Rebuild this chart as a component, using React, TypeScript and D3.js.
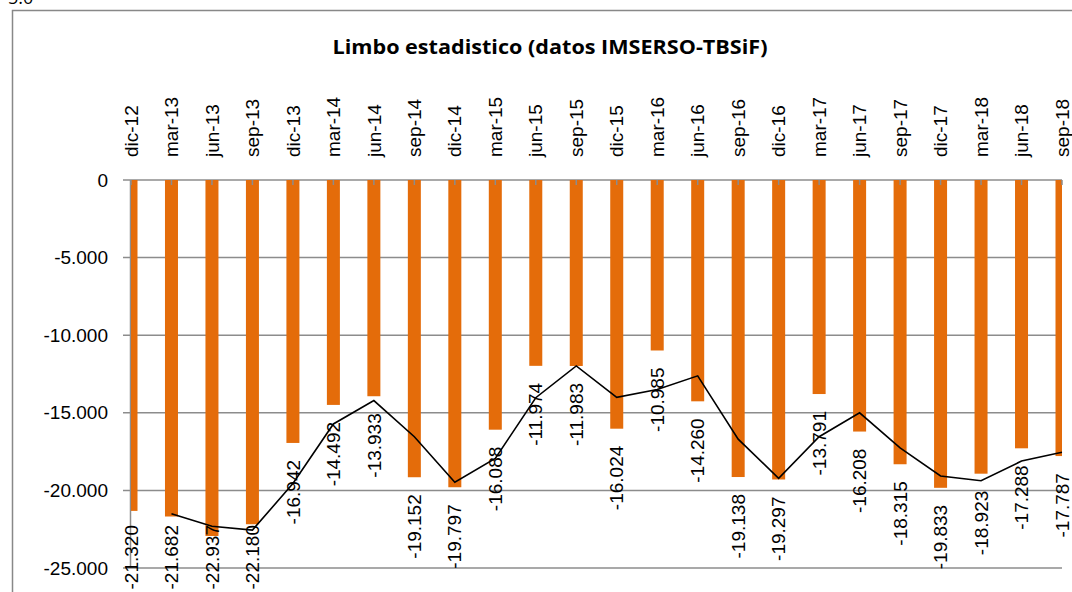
import React from 'react'
import * as d3 from 'd3'

// quarters shown on the category axis
const categories = ['dic-12', 'mar-13', 'jun-13', 'sep-13', 'dic-13', 'mar-14', 'jun-14', 'sep-14',
  'dic-14', 'mar-15', 'jun-15', 'sep-15', 'dic-15', 'mar-16', 'jun-16', 'sep-16',
  'dic-16', 'mar-17', 'jun-17', 'sep-17', 'dic-17', 'mar-18', 'jun-18', 'sep-18']

// bar values (data labels)
const limbo = [-21320, -21682, -22937, -22180, -16942, -14492, -13933, -19152,
  -19797, -16088, -11974, -11983, -16024, -10985, -14260, -19138,
  -19297, -13791, -16208, -18315, -19833, -18923, -17288, -17787]

// black trend line (starts at mar-13)
const trend = [null, -21500, -22310, -22560, -19560, -15720, -14210, -16540,
  -19470, -17940, -14030, -11980, -14000, -13500, -12620, -16700,
  -19220, -16540, -15000, -17260, -19070, -19380, -18110, -17540]

const yTicks = [0, -5000, -10000, -15000, -20000, -25000]

const width = 1072
const height = 592
const plot = { left: 131, right: 1062, top: 180, bottom: 568 }
const barW = 13
const orange = '#E46C0A'
const grid = '#8c8c8c'
const font = '"Liberation Sans", Arial, sans-serif'

const fmt = (v: number) => {
  const s = Math.abs(v).toString()
  const withDots = s.length > 3 ? s.slice(0, s.length - 3) + '.' + s.slice(-3) : s
  return (v < 0 ? '-' : '') + withDots
}

export default function App() {
  const x = d3.scalePoint<string>().domain(categories).range([plot.left, plot.right])
  const y = d3.scaleLinear().domain([0, -25000]).range([plot.top, plot.bottom])

  const line = d3.line<number | null>()
    .defined(d => d !== null)
    .x((d, i) => x(categories[i]) as number)
    .y(d => y(d as number))

  return (
    <svg width={width} height={height} style={{ position: 'absolute', left: 0, top: 0, background: '#fff' }}>
      <defs>
        <clipPath id="plotClip">
          <rect x={plot.left} y={plot.top - 2} width={plot.right - plot.left} height={plot.bottom - plot.top + 4} />
        </clipPath>
      </defs>

      {/* chart area border */}
      <path d={`M12.5,${height} V10.5 H${width}`} fill="none" stroke="#888" strokeWidth={1.5} />
      <text x={8} y={4} fontFamily="'Open Sans', sans-serif" fontSize={18}>5.0</text>

      <text x={550} y={54} textAnchor="middle" fontFamily="'Open Sans', sans-serif"
        fontWeight="bold" fontSize={20} textLength={435} lengthAdjust="spacingAndGlyphs">Limbo estadistico (datos IMSERSO-TBSiF)</text>

      {/* gridlines + y labels */}
      {yTicks.map(t => (
        <g key={t}>
          <line x1={plot.left - 8} x2={plot.right} y1={y(t)} y2={y(t)} stroke={grid} strokeWidth={1.5} />
          <text x={108} y={y(t)} dy="0.35em" textAnchor="end" fontFamily={font} fontSize={19}>{fmt(t)}</text>
        </g>
      ))}
      <line x1={plot.left - 0.5} x2={plot.left - 0.5} y1={plot.top} y2={plot.bottom} stroke={grid} strokeWidth={1.5} />

      {/* bars */}
      <g clipPath="url(#plotClip)">
        {limbo.map((v, i) => (
          <rect key={i} x={(x(categories[i]) as number) - barW / 2} y={y(0)} width={barW}
            height={y(v) - y(0)} fill={orange} />
        ))}
      </g>

      {/* category ticks on the zero axis */}
      {categories.map(c => (
        <line key={c} x1={x(c)} x2={x(c)} y1={plot.top} y2={plot.top + 5} stroke={grid} strokeWidth={1.5} />
      ))}

      {/* category labels */}
      {categories.map(c => (
        <text key={c} transform={`translate(${x(c)},157) rotate(-90)`} dy="0.35em"
          fontFamily={font} fontSize={19}>{c}</text>
      ))}

      <path d={line(trend) || ''} fill="none" stroke="#000" strokeWidth={1.6} />

      {/* data labels */}
      {limbo.map((v, i) => {
        const top = Math.min(y(v) + 17, 525)
        return (
          <text key={i} transform={`translate(${x(categories[i])},${top}) rotate(-90)`} dy="0.35em"
            textAnchor="end" fontFamily={font} fontSize={19}>{fmt(v)}</text>
        )
      })}
    </svg>
  )
}
